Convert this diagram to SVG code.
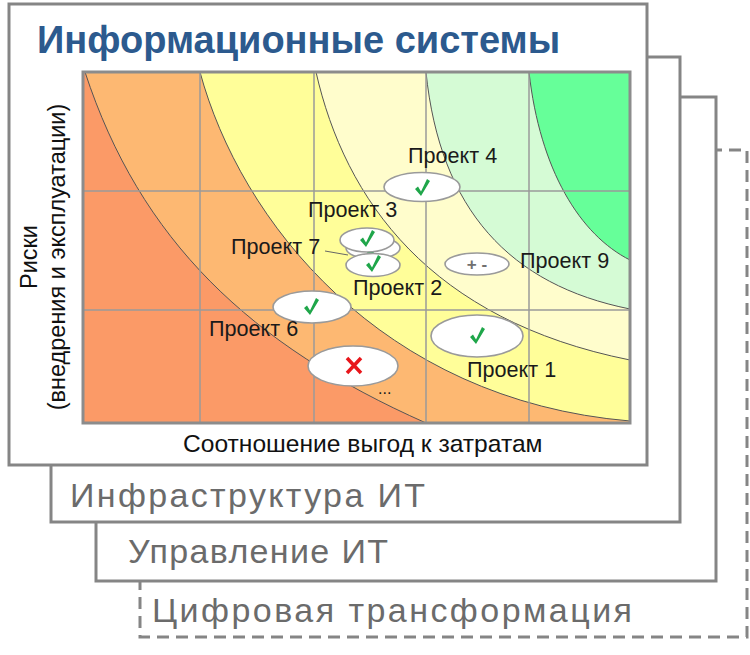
<svg xmlns="http://www.w3.org/2000/svg" xmlns:xlink="http://www.w3.org/1999/xlink" width="750" height="655" viewBox="0 0 750 655">
<style>
.card{fill:#fff;stroke:#858585;stroke-width:3}
.cardtxt{font-family:"Liberation Sans",Arial,sans-serif;font-size:34px;fill:#6b6b6b}
.title{font-family:"Liberation Sans",Arial,sans-serif;font-size:38px;font-weight:bold;fill:#2c5a8e}
.axis{font-family:"Liberation Sans",Arial,sans-serif;font-size:24.6px;fill:#111}
.lbl{font-family:"Liberation Sans",Arial,sans-serif;font-size:21.6px;fill:#1a1a1a}
.curve{fill:none;stroke:#555;stroke-width:1}
.grid{stroke:#9a9a9a;stroke-width:1.5}
.ell{fill:#fff;stroke:#9a9a9a;stroke-width:1.6}
.chk{fill:#1fa64a}
</style>
<defs>
<path id="chk" d="M-7,1 L-4,-1.5 L-1,3.5 L5,-9 L8,-7 L-1,8 Z"/>
</defs>

<g id="card-digital">
<rect x="140" y="150" width="607" height="487" fill="none" stroke="#858585" stroke-width="3" stroke-dasharray="12 7"/>
<text class="cardtxt" x="152" y="622" textLength="480" lengthAdjust="spacing">Цифровая трансформация</text>
</g>
<g id="card-management">
<rect class="card" x="96" y="97" width="620" height="484"/>
<text class="cardtxt" x="128" y="563" textLength="260" lengthAdjust="spacing">Управление ИТ</text>
</g>
<g id="card-infrastructure">
<rect class="card" x="51" y="57" width="629" height="465"/>
<text class="cardtxt" x="70" y="507" textLength="355" lengthAdjust="spacing">Инфраструктура ИТ</text>
</g>
<g id="card-information-systems">
<rect class="card" x="9" y="4" width="638" height="461"/>
<text class="title" x="37" y="53">Информационные системы</text>

<g id="chart">
<rect x="83" y="72" width="547" height="351" fill="#fb9a67"/>
<path d="M85,72 C140,240 250,345 426,423 L630,423 L630,72 Z" fill="#fdb872"/>
<path d="M200,72 C240,220 380,400 630,421 L630,72 Z" fill="#fffe99"/>
<path d="M316,72 C345,200 430,320 630,360 L630,72 Z" fill="#fffdcc"/>
<path d="M426,72 C440,210 510,285 630,309 L630,72 Z" fill="#d5fbd5"/>
<path d="M529,72 C540,170 580,235 630,260 L630,72 Z" fill="#66ff99"/>
<path class="curve" d="M85,72 C140,240 250,345 426,423"/>
<path class="curve" d="M200,72 C240,220 380,400 630,421"/>
<path class="curve" d="M316,72 C345,200 430,320 630,360"/>
<path class="curve" d="M426,72 C440,210 510,285 630,309"/>
<path class="curve" d="M529,72 C540,170 580,235 630,260"/>
<line class="grid" x1="200" y1="72" x2="200" y2="423"/>
<line class="grid" x1="314" y1="72" x2="314" y2="423"/>
<line class="grid" x1="426" y1="72" x2="426" y2="423"/>
<line class="grid" x1="529" y1="72" x2="529" y2="423"/>
<line class="grid" x1="83" y1="191" x2="630" y2="191"/>
<line class="grid" x1="83" y1="310" x2="630" y2="310"/>
<rect x="83" y="72" width="547" height="351" fill="none" stroke="#8c8c8c" stroke-width="3"/>
</g>

<text class="axis" x="183" y="452">Соотношение выгод к затратам</text>
<g transform="translate(37,257) rotate(-90)">
<text class="axis" x="0" y="0" text-anchor="middle" style="font-size:23.5px">Риски</text>
<text class="axis" x="0" y="28" text-anchor="middle" style="font-size:23.5px">(внедрения и эксплуатации)</text>
</g>
</g>

<g id="connectors">
<line x1="325" y1="251" x2="348" y2="255" stroke="#666" stroke-width="1"/>
</g>

<g id="project-4">
<ellipse class="ell" cx="422" cy="187" rx="38" ry="14.5"/>
<use href="#chk" class="chk" x="422" y="188"/>
<text class="lbl" x="408" y="163">Проект 4</text>
</g>
<g id="project-7">
<ellipse class="ell" cx="373" cy="248" rx="27" ry="11"/>
<use href="#chk" class="chk" x="372" y="249"/>
<text class="lbl" x="231" y="254">Проект 7</text>
</g>
<g id="project-2">
<ellipse class="ell" cx="373" cy="265" rx="27" ry="11.5"/>
<use href="#chk" class="chk" x="373" y="264"/>
<text class="lbl" x="353" y="295">Проект 2</text>
</g>
<g id="project-3">
<ellipse class="ell" cx="367" cy="240" rx="27" ry="12"/>
<use href="#chk" class="chk" x="367" y="239"/>
<text class="lbl" x="308" y="217">Проект 3</text>
</g>
<g id="project-6">
<ellipse class="ell" cx="312" cy="307" rx="39" ry="16"/>
<use href="#chk" class="chk" x="311" y="307"/>
<text class="lbl" x="209" y="336">Проект 6</text>
</g>
<g id="project-x">
<ellipse class="ell" cx="353" cy="366" rx="45" ry="20"/>
<path d="M347,358 L361,373 M361,358 L347,373" stroke="#e8161b" stroke-width="3.5" fill="none"/>
<text class="lbl" x="378" y="394" style="font-size:16px">...</text>
</g>
<g id="project-9">
<ellipse class="ell" cx="477" cy="264" rx="32" ry="11"/>
<text x="477" y="270" text-anchor="middle" style="font-family:'Liberation Sans',Arial,sans-serif;font-size:17px;font-weight:bold;fill:#707070">+ -</text>
<text class="lbl" x="520" y="268">Проект 9</text>
</g>
<g id="project-1">
<ellipse class="ell" cx="477" cy="336" rx="46" ry="21"/>
<use href="#chk" class="chk" x="477" y="336"/>
<text class="lbl" x="467" y="377">Проект 1</text>
</g>
</svg>
